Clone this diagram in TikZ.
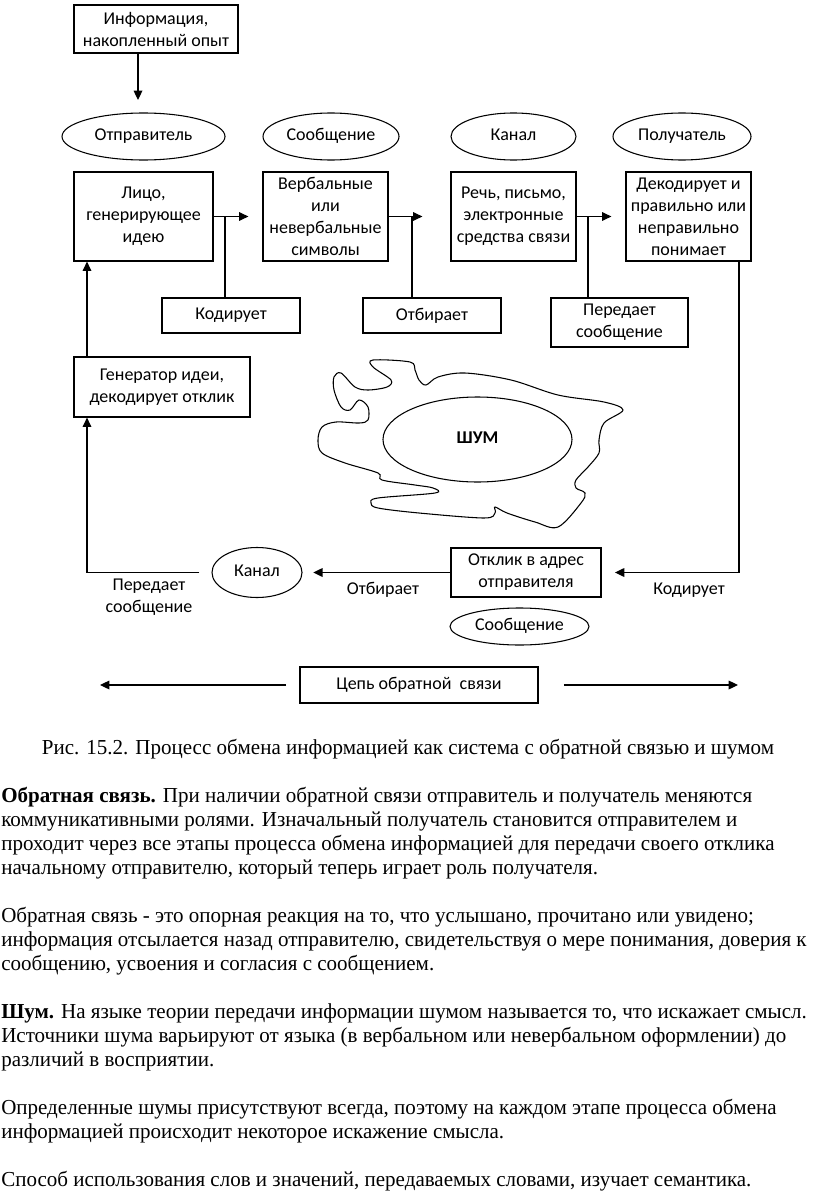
\documentclass[tikz,border=0pt]{standalone}
\usepackage{fontspec}
\setmainfont{Carlito}
\newfontfamily\bodyfont[FakeStretch=0.985]{Liberation Serif}
\usepackage{tikz}
\usetikzlibrary{positioning, arrows.meta, shapes.geometric}
\newcommand\pxu{0.75pt}
\tikzset{
    box/.style={rectangle, draw=black, line width=0.9pt, align=center, inner sep=1pt},
    oval/.style={ellipse, draw=black, line width=0.8pt, inner sep=0pt, text height=1.5ex, text depth=0.3ex},
    link/.style={draw=black, line width=0.9pt},
    note/.style={align=center, inner sep=0pt},
    para/.style={anchor=base west, inner sep=0pt, font=\bodyfont\fontsize{16}{18}\selectfont}
}

\begin{document}
\begin{tikzpicture}[x=\pxu, y=-\pxu, >={Triangle[length=7pt, width=6.5pt]}, every node/.style={font=\fontsize{13.5}{16.5}\selectfont}]
  \fill[white] (0,0) rectangle (816,1195);
  \useasboundingbox (0,0) rectangle (816,1195);

  \node[box, minimum width=164*\pxu, minimum height=48*\pxu] (info) at (156,29) {Информация,\\накопленный опыт};

  \node[oval, minimum width=163*\pxu, minimum height=47*\pxu] (sender)  at (143.5,136.5) {Отправитель};
  \node[oval, minimum width=136*\pxu, minimum height=47*\pxu] (message) at (331,136.5)   {Сообщение};
  \node[oval, minimum width=125*\pxu, minimum height=47*\pxu] (channel) at (513.5,136.5) {Канал};
  \node[oval, minimum width=138*\pxu, minimum height=47*\pxu] (receiver) at (682,136.5)  {Получатель};

  \node[box, minimum width=139*\pxu, minimum height=89*\pxu] (person)  at (143.5,216.5) {Лицо,\\генерирующее\\идею};
  \node[box, minimum width=125*\pxu, minimum height=89*\pxu] (symbols) at (325.5,216.5) {Вербальные\\или\\невербальные\\символы};
  \node[box, minimum width=125*\pxu, minimum height=89*\pxu] (speech)  at (513.5,216.5) {Речь, письмо,\\электронные\\средства связи};
  \node[box, minimum width=125*\pxu, minimum height=89*\pxu] (decode)  at (688.5,216.5) {Декодирует и\\правильно или\\неправильно\\понимает};

  \node[box, minimum width=138*\pxu, minimum height=35*\pxu] (encode)   at (231,315.5)   {Кодирует};
  \node[box, minimum width=138*\pxu, minimum height=35*\pxu] (select)   at (432,315.5)   {Отбирает};
  \node[box, minimum width=137*\pxu, minimum height=49*\pxu] (transmit) at (619.5,322.5) {Передает\\сообщение};

  \node[box, minimum width=176*\pxu, minimum height=60*\pxu] (generator) at (162,387) {Генератор идеи,\\декодирует отклик};

  \draw[link, line width=0.8pt] plot[smooth cycle, tension=0.55] coordinates {
    (373,360) (410,362) (415,370) (419,380) (426,385) (438,377) (465,373) (511,380)
    (558,395) (604,402) (623,410) (604,423) (599,440) (599,453) (588,467) (576,480)
    (576,488) (585,493) (581,503) (558,527) (535,522) (507,513) (495,507) (495,513)
    (484,518) (419,513) (378,508) (371,503) (378,498) (435,493) (433,488) (415,485)
    (382,480) (378,473) (345,463) (322,453) (318,440) (322,427) (336,422) (359,423)
    (368,420) (368,407) (359,400) (350,410) (341,407) (334,390) (334,377) (341,373)
    (355,387) (368,390) (387,387) (391,380) (373,367)};
  \node[oval, minimum width=189*\pxu, minimum height=85*\pxu, font=\bfseries\fontsize{13.5}{16.5}\selectfont] (noise) at (477.5,439.5) {ШУМ};

  \node[box, minimum width=150*\pxu, minimum height=49*\pxu] (response) at (526,572.5) {Отклик в адрес\\отправителя};
  \node[oval, minimum width=90*\pxu, minimum height=50*\pxu]   (channel2) at (257,572.5) {Канал};
  \node[oval, minimum width=139*\pxu, minimum height=37*\pxu]  (message2) at (519.5,626.5) {Сообщение};

  \node[note] (sendlbl) at (149,597) {Передает\\сообщение};
  \node[note] (picklbl) at (383,590) {Отбирает};
  \node[note] (codelbl) at (689,590) {Кодирует};

  \node[box, minimum width=238*\pxu, minimum height=36*\pxu] (loop) at (419,685) {Цепь обратной\ \ связи};

  \coordinate (infotip) at (138,100);
  \draw[link, ->] (infotip |- info.south) -- (infotip);

  \coordinate (enctap)  at (225,216.5);
  \coordinate (seltap)  at (412,216.5);
  \coordinate (sendtap) at (588,216.5);
  \draw[link, ->, shorten >=10.5pt] (person.east) -- (symbols.west);
  \draw[link, ->, shorten >=21pt]   (symbols.east) -- (speech.west);
  \draw[link, ->, shorten >=10.5pt] (speech.east) -- (decode.west);
  \draw[link] (encode.north -| enctap) -- (enctap);
  \draw[link] (select.north -| seltap) -- (seltap);
  \draw[link] (transmit.north -| sendtap) -- (sendtap);

  \coordinate (backturn) at (739,572.5);
  \coordinate (leftturn) at (87,572.5);
  \draw[link, ->, shorten >=10pt] (backturn |- decode.south) -- (backturn) -- (response.east);
  \draw[link, ->, shorten >=8pt] (response.west) -- (channel2.east);
  \draw[link, ->, shorten <=9pt] (channel2.west) -- (leftturn) -- (leftturn |- generator.south);
  \draw[link, ->] (leftturn |- generator.north) -- (leftturn |- person.south);

  \coordinate (loopleft)  at (100,685);
  \coordinate (loopright) at (738,685);
  \draw[link, ->, shorten <=10pt] (loop.west) -- (loopleft);
  \draw[link, ->, shorten <=19pt] (loop.east) -- (loopright);

  \node[para, anchor=base] (caption) at (408,754) {Рис. 15.2. Процесс обмена информацией как система с обратной связью и шумом};
  \foreach \yy/\txt [count=\i] in {
      802/{\textbf{Обратная связь.} При наличии обратной связи отправитель и получатель меняются},
      826/{коммуникативными ролями. Изначальный получатель становится отправителем и},
      850/{проходит через все этапы процесса обмена информацией для передачи своего отклика},
      874/{начальному отправителю, который теперь играет роль получателя.},
      922/{Обратная связь - это опорная реакция на то, что услышано, прочитано или увидено;},
      946/{информация отсылается назад отправителю, свидетельствуя о мере понимания, доверия к},
      970/{сообщению, усвоения и согласия с сообщением.},
      1018/{\textbf{Шум.} На языке теории передачи информации шумом называется то, что искажает смысл.},
      1042/{Источники шума варьируют от языка (в вербальном или невербальном оформлении) до},
      1066/{различий в восприятии.},
      1114/{Определенные шумы присутствуют всегда, поэтому на каждом этапе процесса обмена},
      1138/{информацией происходит некоторое искажение смысла.},
      1186/{Способ использования слов и значений, передаваемых словами, изучает семантика.}}
    \node[para] (line\i) at (1,\yy) {\txt};
\end{tikzpicture}
\end{document}
